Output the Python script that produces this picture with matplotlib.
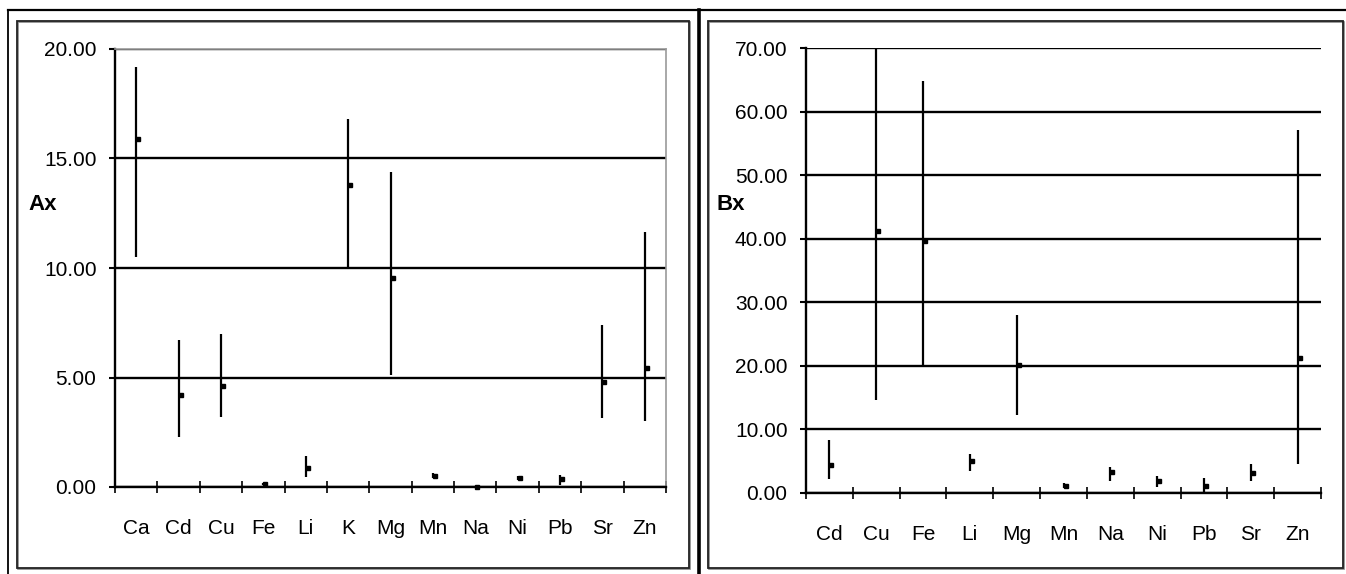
import numpy as np
import matplotlib
matplotlib.use('Agg')
import matplotlib.pyplot as plt
from matplotlib.patches import Rectangle
from matplotlib.lines import Line2D
from matplotlib.transforms import offset_copy
from matplotlib.ticker import FormatStrFormatter

# --- data ---
a_elements = ['Ca', 'Cd', 'Cu', 'Fe', 'Li', 'K', 'Mg', 'Mn', 'Na', 'Ni', 'Pb', 'Sr', 'Zn']
a_mean = [15.9, 4.2, 4.6, 0.14, 0.86, 13.8, 9.56, 0.52, 0.0, 0.42, 0.36, 4.81, 5.43]
a_low = [10.5, 2.3, 3.2, 0.10, 0.45, 10.0, 5.13, 0.41, 0.0, 0.32, 0.09, 3.17, 3.0]
a_high = [19.2, 6.7, 7.0, 0.18, 1.41, 16.8, 14.4, 0.64, 0.0, 0.50, 0.55, 7.4, 11.66]

b_elements = ['Cd', 'Cu', 'Fe', 'Li', 'Mg', 'Mn', 'Na', 'Ni', 'Pb', 'Sr', 'Zn']
b_mean = [4.4, 41.2, 39.7, 5.0, 20.1, 1.1, 3.3, 1.9, 1.1, 3.1, 21.3]
b_low = [2.2, 14.7, 20.1, 3.5, 12.25, 0.79, 1.9, 1.0, 0.2, 1.9, 4.5]
b_high = [8.3, 70.0, 64.8, 6.1, 28.0, 1.57, 4.1, 2.7, 2.4, 4.6, 57.1]

W, H = 1346, 574
FS = 15
plt.rcParams['font.family'] = ['Liberation Sans', 'DejaVu Sans']

fig = plt.figure(figsize=(W / 100, H / 100), dpi=100)


def px_axes(x0, y0, x1, y1):
    return fig.add_axes([x0 / W, 1 - y1 / H, (x1 - x0) / W, (y1 - y0) / H])


def draw_panel(ax, names, mean, low, high, ymax, ystep, label, label_xy, gray_frame):
    n = len(names)
    x = np.arange(n)
    ax.set_xlim(-0.5, n - 0.5)
    ax.set_ylim(0, ymax)

    ax.vlines(x, low, high, color='black', lw=1.6, zorder=3)
    shifted = offset_copy(ax.transData, fig=fig, x=2, y=0, units='dots')
    ax.plot(x, mean, 's', color='black', ms=2.8, mec='black', transform=shifted,
            zorder=4, clip_on=False)

    ax.set_yticks(np.arange(0, ymax + ystep / 2, ystep))
    ax.yaxis.set_major_formatter(FormatStrFormatter('%.2f'))
    ax.grid(axis='y', color='black', lw=1.7)
    ax.tick_params(axis='y', direction='out', length=4.3, width=1.5, pad=9,
                   labelsize=FS)

    ax.set_xticks(np.arange(-0.5, n, 1.0))
    ax.set_xticklabels([])
    ax.set_xticks(x, minor=True)
    ax.set_xticklabels(names, minor=True, fontsize=FS)
    ax.tick_params(axis='x', which='major', direction='inout', length=9, width=1.2)
    ax.tick_params(axis='x', which='minor', length=0, pad=23)

    for side in ['left', 'bottom']:
        ax.spines[side].set_linewidth(1.7)
        ax.spines[side].set_color('black')
    if gray_frame:
        for side in ['top', 'right']:
            ax.spines[side].set_color('#999999')
            ax.spines[side].set_linewidth(1.2)
    else:
        ax.spines['top'].set_visible(False)
        ax.spines['right'].set_visible(False)

    ax.set_ylabel(label, rotation=0, fontsize=FS + 1, fontweight='bold',
                  ha='center', va='center')
    ax.yaxis.set_label_coords(*label_xy)
    ax.set_facecolor('white')


ax1 = px_axes(115, 49, 666, 487)
draw_panel(ax1, a_elements, a_mean, a_low, a_high, 20, 5, 'Ax',
           ((43 - 115) / 551, (487 - 205) / 438), True)

ax2 = px_axes(806, 48, 1321, 493)
draw_panel(ax2, b_elements, b_mean, b_low, b_high, 70, 10, 'Bx',
           ((731 - 806) / 515, (493 - 205) / 445), False)

# chart-area frames, with a faint shadow on the lower right
for x0, y0, x1, y1 in [(17, 21, 689, 568), (708, 21, 1343, 568)]:
    fig.add_artist(Rectangle(((x0 + 1) / W, 1 - (y1 + 1) / H), (x1 - x0) / W,
                             (y1 - y0) / H, transform=fig.transFigure,
                             fill=False, ec='#888888', lw=1.2))
    fig.add_artist(Rectangle((x0 / W, 1 - y1 / H), (x1 - x0) / W, (y1 - y0) / H,
                             transform=fig.transFigure, fill=False,
                             ec='#222222', lw=1.3))

# table cell borders
top = 1 - 10 / H
fig.add_artist(Line2D([8 / W, 1], [top, top], transform=fig.transFigure,
                      color='black', lw=1.6))
fig.add_artist(Line2D([8 / W, 8 / W], [0, top], transform=fig.transFigure,
                      color='black', lw=1.3))
fig.add_artist(Line2D([699 / W, 699 / W], [0, top], transform=fig.transFigure,
                      color='black', lw=2.6))

fig.savefig('out.png', dpi=100)
